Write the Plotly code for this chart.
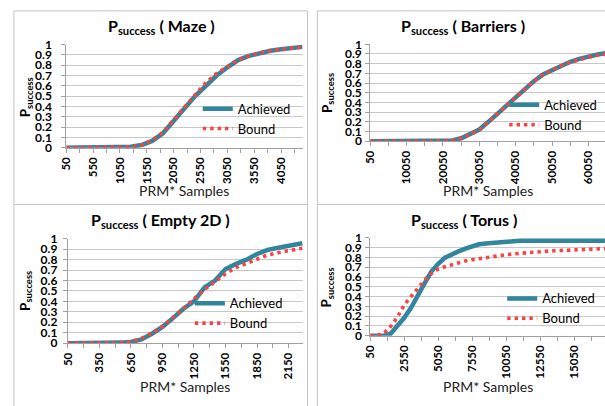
import plotly.graph_objects as go

W, H = 605, 406


def px(x):
    return x / W


def py(y):
    return 1 - y / H


TEAL = "#31859C"
RED = "#FF4040"
GRID = "#C8C8C8"
AXIS = "#A0A0A0"
BOX = "#C4C4C8"
FONT = "Lato"

# ---------------- data ----------------
maze_samples = [50, 250, 450, 650, 850, 1050, 1250, 1450, 1650, 1850, 2050, 2250,
                2450, 2650, 2850, 3050, 3250, 3450, 3650, 3850, 4050, 4250, 4450]
maze_achieved = [0, 0, 0, 0, 0.002, 0.004, 0.008, 0.025, 0.065, 0.14, 0.26, 0.37,
                 0.50, 0.60, 0.70, 0.78, 0.85, 0.89, 0.92, 0.94, 0.955, 0.972, 0.978]
maze_bound = [0, 0, 0, 0, 0.001, 0.003, 0.008, 0.025, 0.07, 0.15, 0.27, 0.39,
              0.52, 0.63, 0.72, 0.79, 0.85, 0.89, 0.92, 0.94, 0.955, 0.968, 0.975]

barriers_samples = [50, 2550, 5050, 7550, 10050, 12550, 15050, 17550, 20050, 22550,
                    25050, 27550, 30050, 32550, 35050, 37550, 40050, 42550, 45050,
                    47550, 50050, 52550, 55050, 57550, 60050, 62550, 65050]
barriers_achieved = [0, 0, 0, 0, 0, 0, 0, 0.001, 0.003, 0.008, 0.03, 0.07, 0.12,
                     0.20, 0.285, 0.375, 0.455, 0.54, 0.62, 0.69, 0.735, 0.785,
                     0.82, 0.85, 0.875, 0.895, 0.91]
barriers_bound = [0, 0, 0, 0, 0, 0, 0, 0.001, 0.003, 0.01, 0.03, 0.068, 0.12,
                  0.20, 0.285, 0.375, 0.46, 0.545, 0.62, 0.685, 0.735, 0.78,
                  0.815, 0.845, 0.868, 0.888, 0.90]

empty_samples = [50, 150, 250, 350, 450, 550, 650, 750, 850, 950, 1050, 1150,
                 1250, 1350, 1450, 1550, 1650, 1750, 1850, 1950, 2050, 2150, 2250, 2280]
empty_achieved = [0, 0, 0, 0, 0.002, 0.005, 0.012, 0.035, 0.09, 0.155, 0.24, 0.33,
                  0.40, 0.535, 0.60, 0.71, 0.76, 0.80, 0.855, 0.895, 0.915, 0.933,
                  0.955, 0.957]
empty_bound = [0, 0, 0, 0, 0.002, 0.005, 0.015, 0.045, 0.095, 0.16, 0.245, 0.335,
               0.42, 0.514, 0.59, 0.665, 0.725, 0.768, 0.81, 0.845, 0.868, 0.89,
               0.905, 0.91]

torus_samples = [50, 550, 1050, 1550, 2050, 2550, 3050, 3550, 4050, 4550, 5050,
                 5550, 6050, 6550, 7050, 7550, 8050, 8550, 9050, 9550, 10050, 10550,
                 11050, 11550, 12050, 12550, 13050, 13550, 14050, 14550, 15050,
                 15550, 16050, 16550, 17050, 17550]
torus_achieved = [0, 0, 0, 0.02, 0.10, 0.183, 0.285, 0.42, 0.535, 0.655, 0.735,
                  0.797, 0.835, 0.862, 0.89, 0.918, 0.935, 0.943, 0.95, 0.958,
                  0.966, 0.97, 0.97, 0.97, 0.97, 0.97, 0.97, 0.97, 0.97, 0.97,
                  0.97, 0.97, 0.97, 0.97, 0.97, 0.97]
torus_bound = [0, 0.002, 0.025, 0.095, 0.19, 0.315, 0.40, 0.487, 0.567, 0.637,
               0.68, 0.705, 0.727, 0.748, 0.764, 0.777, 0.789, 0.80, 0.81, 0.82,
               0.828, 0.836, 0.843, 0.85, 0.856, 0.86, 0.864, 0.868, 0.872, 0.876,
               0.879, 0.882, 0.885, 0.888, 0.89, 0.892]

series_names = ["Achieved", "Bound"]
panel_names = ["Maze", "Barriers", "Empty 2D", "Torus"]
x_title = "PRM* Samples"
y_title = "P<sub>success</sub>"

panels = [
    dict(name=panel_names[0], x=maze_samples, a=maze_achieved, b=maze_bound,
         xdom=(60, 299), ydom=(38, 145), xr=(50, 4450), dt=500, mdt=250,
         box=(7, 3, 304, 204), title=(156, 19), ytit=(19, 93), xtit=(179, 190),
         leg=(193, 89), stand=7),
    dict(name=panel_names[1], x=barriers_samples, a=barriers_achieved, b=barriers_bound,
         xdom=(367.5, 605), ydom=(37.7, 138.3), xr=(50, 64600), dt=10000, mdt=5000,
         box=(314, 3, 620, 204), title=(461, 19), ytit=(324, 88), xtit=(487, 190),
         leg=(503, 85), stand=1),
    dict(name=panel_names[2], x=empty_samples, a=empty_achieved, b=empty_bound,
         xdom=(61.5, 299.3), ydom=(239.7, 348), xr=(50, 2285), dt=300, mdt=150,
         box=(7, 204, 304, 420), title=(155, 221), ytit=(19, 294), xtit=(180, 393),
         leg=(185, 291), stand=3),
    dict(name=panel_names[3], x=torus_samples, a=torus_achieved, b=torus_bound,
         xdom=(367.5, 605), ydom=(238.7, 340.3), xr=(50, 17330), dt=2500, mdt=1250,
         box=(314, 204, 620, 420), title=(462, 221), ytit=(324, 290), xtit=(487, 393),
         leg=(501, 286), stand=1),
]

fig = go.Figure()
layout = dict(
    width=W, height=H,
    margin=dict(l=0, r=0, t=0, b=0),
    paper_bgcolor="white", plot_bgcolor="white",
    font=dict(family=FONT, color="#000000"),
    showlegend=True,
    annotations=[], shapes=[],
)

for i, p in enumerate(panels, start=1):
    sfx = "" if i == 1 else str(i)
    leg_id = "legend" if i == 1 else f"legend{i}"
    fig.add_trace(go.Scatter(
        x=p["x"], y=p["a"], mode="lines", name=series_names[0],
        line=dict(color=TEAL, width=4.5), xaxis=f"x{sfx}", yaxis=f"y{sfx}",
        legend=leg_id, hoverinfo="skip"))
    fig.add_trace(go.Scatter(
        x=p["x"], y=p["b"], mode="lines", name=series_names[1],
        line=dict(color=RED, width=3.6, dash="3.4px,4px"), xaxis=f"x{sfx}",
        yaxis=f"y{sfx}", legend=leg_id, hoverinfo="skip"))

    layout[f"xaxis{sfx}"] = dict(
        domain=[px(p["xdom"][0]), px(p["xdom"][1])], range=list(p["xr"]),
        anchor=f"y{sfx}", tick0=50, dtick=p["dt"], tickformat="d",
        ticks="outside", ticklen=4,
        tickcolor=AXIS, showline=True, linecolor=AXIS, linewidth=1,
        showgrid=False, zeroline=False, tickangle=-90,
        tickfont=dict(family=FONT, size=11.5, weight="bold"),
        minor=dict(tick0=50, dtick=p["mdt"], ticks="outside", ticklen=4,
                   tickcolor=AXIS, showgrid=False),
        fixedrange=True)
    layout[f"yaxis{sfx}"] = dict(
        domain=[py(p["ydom"][1]), py(p["ydom"][0])], range=[0, 1],
        anchor=f"x{sfx}", tick0=0, dtick=0.1, ticks="outside", ticklen=4,
        tickcolor=AXIS, showline=True, linecolor=AXIS, linewidth=1,
        showgrid=True, gridcolor=GRID, gridwidth=1, zeroline=False,
        ticklabelstandoff=p["stand"],
        tickfont=dict(family=FONT, size=12, weight="bold"),
        fixedrange=True)
    layout[leg_id] = dict(
        x=px(p["leg"][0]), y=py(p["leg"][1]), xanchor="left", yanchor="top",
        bgcolor="rgba(0,0,0,0)", borderwidth=0,
        font=dict(family=FONT, size=13, color="#000000"))

    bx0, by0, bx1, by1 = p["box"]
    layout["shapes"].append(dict(
        type="rect", xref="paper", yref="paper", x0=px(bx0), x1=px(bx1),
        y0=py(by1), y1=py(by0), line=dict(color=BOX, width=1), layer="below"))

    layout["annotations"].append(dict(
        text=f"P<sub>success</sub> ( {p['name']} )", xref="paper", yref="paper",
        x=px(p["title"][0]), y=py(p["title"][1]), xanchor="center", yanchor="middle",
        showarrow=False, font=dict(family=FONT, size=16, weight="bold")))
    layout["annotations"].append(dict(
        text=y_title, xref="paper", yref="paper", textangle=-90,
        x=px(p["ytit"][0]), y=py(p["ytit"][1]), xanchor="center", yanchor="middle",
        showarrow=False, font=dict(family=FONT, size=13.5, weight="bold")))
    layout["annotations"].append(dict(
        text=x_title, xref="paper", yref="paper",
        x=px(p["xtit"][0]), y=py(p["xtit"][1]), xanchor="center", yanchor="middle",
        showarrow=False, font=dict(family=FONT, size=14, color="#222222")))

fig.update_layout(**layout)
fig.write_html("out.html", config={"displayModeBar": False},
               post_script="document.body.style.margin='0px';"
                           "document.body.style.padding='0px';")
